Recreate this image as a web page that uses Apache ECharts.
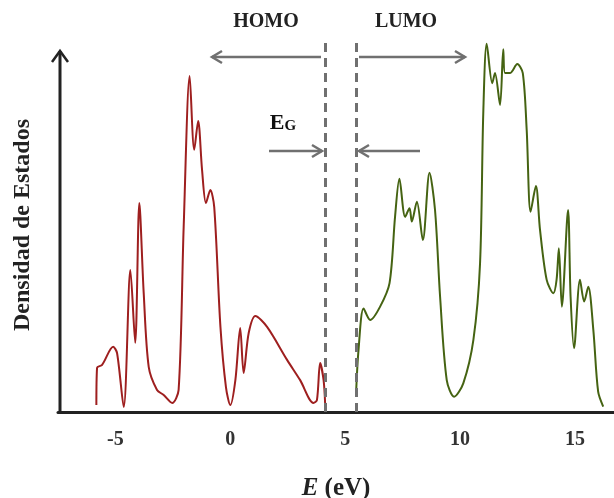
<!DOCTYPE html>
<html>
<head>
<meta charset="utf-8">
<script src="https://cdn.jsdelivr.net/npm/echarts@6/dist/echarts.min.js"></script>
<style>
  html, body { margin: 0; padding: 0; background: #fff; }
  #chart { width: 614px; height: 498px; }
</style>
</head>
<body>
<div id="chart"></div>
<script>
// energia (eV) y densidad de estados (u.a.)
const energyHomo = [-5.83, -5.80, -5.58, -5.10, -4.93, -4.64, -4.35, -4.14, -3.96, -3.77, -3.55, -3.19, -2.90, -2.53, -2.25, -2.03, -1.77, -1.57, -1.40, -1.23, -1.06, -0.87, -0.70, -0.43, -0.19, 0.00, 0.22, 0.43, 0.58, 0.80, 1.09, 1.60, 2.47, 3.04, 3.62, 3.77, 3.91, 4.06, 4.13]
const dosHomo = [1.9, 12.2, 13.0, 18.0, 16.3, 1.4, 39.2, 19.1, 57.7, 32.9, 12.4, 6.1, 4.7, 2.5, 6.1, 51.1, 92.8, 72.4, 80.4, 66.9, 57.7, 61.3, 56.6, 23.5, 6.9, 1.9, 8.8, 23.2, 10.8, 21.8, 26.5, 23.5, 14.4, 8.8, 2.5, 3.3, 13.5, 8.8, 1.9]

const energyLumo = [5.48, 5.58, 5.80, 6.09, 6.52, 6.93, 7.17, 7.36, 7.61, 7.80, 7.90, 8.12, 8.38, 8.67, 8.91, 9.13, 9.42, 9.74, 10.14, 10.58, 10.87, 11.01, 11.16, 11.40, 11.52, 11.74, 11.88, 11.96, 12.17, 12.49, 12.73, 12.90, 13.07, 13.30, 13.48, 13.77, 14.06, 14.20, 14.30, 14.43, 14.70, 14.81, 14.96, 15.22, 15.40, 15.58, 15.80, 16.01, 16.23]
const dosLumo = [6.1, 17.1, 28.6, 25.4, 29.1, 35.6, 53.9, 64.4, 53.9, 56.3, 52.6, 58.1, 47.5, 66.1, 55.8, 31.9, 8.8, 4.2, 7.9, 19.9, 41.1, 82.5, 101.7, 90.8, 93.6, 84.8, 100.2, 93.6, 93.6, 96.1, 93.6, 77.9, 55.3, 62.4, 50.3, 36.5, 32.8, 36.5, 45.2, 29.1, 55.8, 31.9, 17.6, 36.5, 30.5, 34.6, 22.7, 5.6, 1.5]

const xTickLabels = [-5, 0, 5, 10, 15]
const homoEdge = 4.13
const lumoEdge = 5.48

const serif = '"Liberation Serif", "DejaVu Serif", serif'
const grey = '#707070'

function pairs(xs, ys) {
  return xs.map((x, i) => [x, ys[i]])
}

let myChart = echarts.init(document.getElementById('chart'))

const gapLine = (x) => ({
  silent: true,
  symbol: 'none',
  label: { show: false },
  lineStyle: { color: grey, type: [9, 6], width: 3 },
  data: [{ xAxis: x }]
})

// flecha con punta abierta
function arrow(x1, x2, y) {
  const d = x2 > x1 ? -1 : 1
  return [
    { type: 'polyline', shape: { points: [[x1, y], [x2, y]] }, style: { stroke: grey, lineWidth: 2.5, fill: null } },
    { type: 'polyline', shape: { points: [[x2 + d * 10, y - 6], [x2, y], [x2 + d * 10, y + 6]] }, style: { stroke: grey, lineWidth: 2.5, fill: null } }
  ]
}

myChart.setOption({
  animation: false,
  grid: { left: 58, right: 0, top: 38, bottom: 86, outerBoundsMode: 'none', containLabel: false },
  xAxis: {
    type: 'value',
    min: -7.5,
    max: 16.7,
    interval: 2.5,
    name: '{i|E} (eV)',
    nameLocation: 'middle',
    nameGap: 64,
    nameTextStyle: {
      fontFamily: serif, fontSize: 25, fontWeight: 'bold', color: '#222',
      rich: { i: { fontFamily: serif, fontSize: 25, fontWeight: 'bold', fontStyle: 'italic', color: '#222' } }
    },
    axisLine: { lineStyle: { color: '#222', width: 3 } },
    axisTick: { show: false },
    splitLine: { show: false },
    axisLabel: {
      margin: 18,
      fontFamily: serif, fontSize: 20, fontWeight: 'bold', color: '#333',
      showMaxLabel: false,
      formatter: (v) => (xTickLabels.indexOf(v) >= 0 ? String(v) : '')
    }
  },
  yAxis: {
    type: 'value',
    min: 0,
    max: 103.3,
    name: 'Densidad de Estados',
    nameLocation: 'middle',
    nameGap: 23,
    nameTextStyle: { fontFamily: serif, fontSize: 24, fontWeight: 'bold', color: '#222' },
    axisLine: { show: false },
    axisTick: { show: false },
    axisLabel: { show: false },
    splitLine: { show: false }
  },
  series: [
    {
      name: 'HOMO',
      type: 'line',
      data: pairs(energyHomo, dosHomo),
      smooth: 0.3,
      showSymbol: false,
      lineStyle: { color: '#9e1f1f', width: 2 },
      markLine: gapLine(homoEdge)
    },
    {
      name: 'LUMO',
      type: 'line',
      data: pairs(energyLumo, dosLumo),
      smooth: 0.3,
      showSymbol: false,
      clip: false,
      lineStyle: { color: '#456312', width: 2 },
      markLine: gapLine(lumoEdge)
    }
  ],
  graphic: [
    // eje vertical con flecha
    { type: 'polyline', shape: { points: [[60, 412], [60, 51]] }, style: { stroke: '#222', lineWidth: 3, fill: null } },
    { type: 'polyline', shape: { points: [[52, 62], [60, 51], [68, 62]] }, style: { stroke: '#222', lineWidth: 2.5, fill: null } },
    ...arrow(321, 212, 57),
    ...arrow(359, 465, 57),
    ...arrow(269, 322, 151),
    ...arrow(420, 359, 151),
    { type: 'text', x: 266, y: 22, style: { text: 'HOMO', font: 'bold 20px ' + serif, fill: '#222', align: 'center', verticalAlign: 'middle' } },
    { type: 'text', x: 406, y: 22, style: { text: 'LUMO', font: 'bold 20px ' + serif, fill: '#222', align: 'center', verticalAlign: 'middle' } },
    {
      type: 'text', x: 283, y: 123,
      style: {
        text: '{e|E}{g|G}', align: 'center', verticalAlign: 'middle',
        rich: {
          e: { font: 'bold 22px ' + serif, fill: '#111' },
          g: { font: 'bold 15px ' + serif, fill: '#111', padding: [6, 0, 0, 0] }
        }
      }
    }
  ]
})
</script>
</body>
</html>
